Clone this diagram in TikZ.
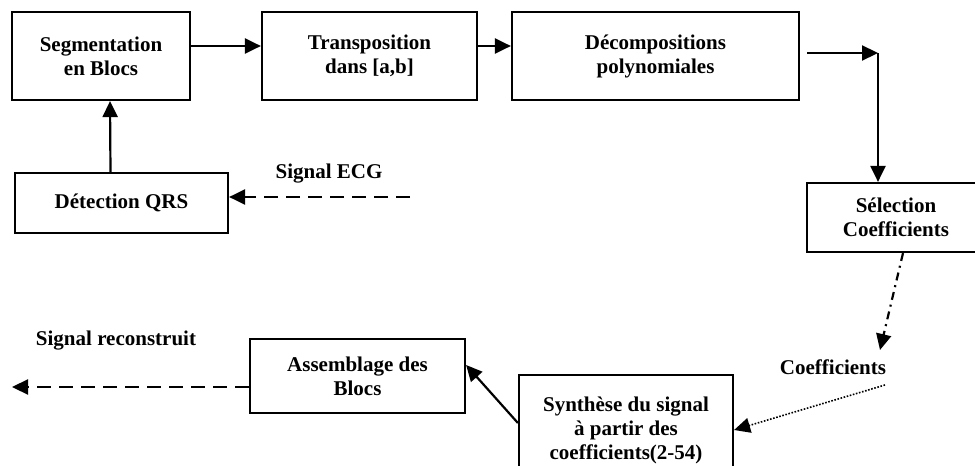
\documentclass[tikz,border=0pt]{standalone}
\usepackage{fontspec}
\setmainfont{Liberation Serif}
\usetikzlibrary{arrows.meta,calc}

\begin{document}
\begin{tikzpicture}[x=0.5pt,y=-0.5pt,line width=1.1pt,
    bloc/.style={draw,align=center,font=\fontsize{10.5}{12}\selectfont\bfseries,inner sep=0pt},
    lbl/.style={font=\fontsize{10.5}{12}\selectfont\bfseries,inner sep=0pt},
    fl/.style={-{Triangle[length=8pt,width=7.5pt]}},
    tirets/.style={dash pattern=on 7pt off 4pt},
    mixte/.style={dash pattern=on 4pt off 2.5pt on 1pt off 2.5pt},
    points/.style={line width=0.8pt,dash pattern=on 0.8pt off 0.8pt}]
  \clip (0,0) rectangle (975,466);
  \node[bloc,minimum width=89pt,minimum height=44pt] (seg) at (101,56) {Segmentation\\en Blocs};
  \node[bloc,minimum width=107.5pt,minimum height=44pt] (trans) at (369.5,56) {Transposition\\dans [a,b]};
  \node[bloc,minimum width=143.5pt,minimum height=44pt] (dec) at (655.5,56) {Décompositions\\polynomiales};
  \node[bloc,minimum width=89pt,minimum height=34.5pt] (sel) at (896,217.5) {Sélection\\Coefficients};
  \node[bloc,minimum width=106.5pt,minimum height=30pt] (det) at (121.5,203) {Détection QRS};
  \node[bloc,minimum width=107.5pt,minimum height=37pt] (ass) at (357.5,376) {Assemblage des\\Blocs};
  \node[bloc,minimum width=107pt,minimum height=55pt] (syn) at (626,430) {Synthèse du signal\\à partir des\\coefficients(2-54)};

  \node[lbl] (lecg) at (329,174) {Signal ECG};
  \node[lbl] (lcoef) at (833,367) {Coefficients};
  \node[lbl] (lrec) at (116,341) {Signal reconstruit};

  \coordinate (coin) at (878,53);
  \coordinate (ecg) at (410,197);
  \coordinate (cf) at (880,350);
  \coordinate (pt) at (885,385);
  \coordinate (sortie) at (12,387);

  \draw[fl] ($(seg.east)+(0,-10)$) -- ($(trans.west)+(0,-10)$);
  \draw[fl] ($(trans.east)+(0,-10)$) -- ($(dec.west)+(0,-10)$);
  \draw[fl] ($(dec.east)+(7,-3)$) -- (coin);
  \draw[fl] (coin) -- (coin |- sel.north);
  \draw[fl] ($(det.north)+(-11,0)$) -- ($(seg.south)+(9,0)$);
  \draw[fl,tirets] (ecg) -- (ecg -| det.east);
  \draw[fl,mixte] ($(sel.south)+(7,0)$) -- (cf);
  \draw[fl,points] (pt) -- (syn.east);
  \draw[fl] ($(syn.west)+(0,-7)$) -- ($(ass.east)+(0,-11)$);
  \draw[fl,tirets] ($(ass.west)+(0,11)$) -- (sortie);
\end{tikzpicture}
\end{document}
